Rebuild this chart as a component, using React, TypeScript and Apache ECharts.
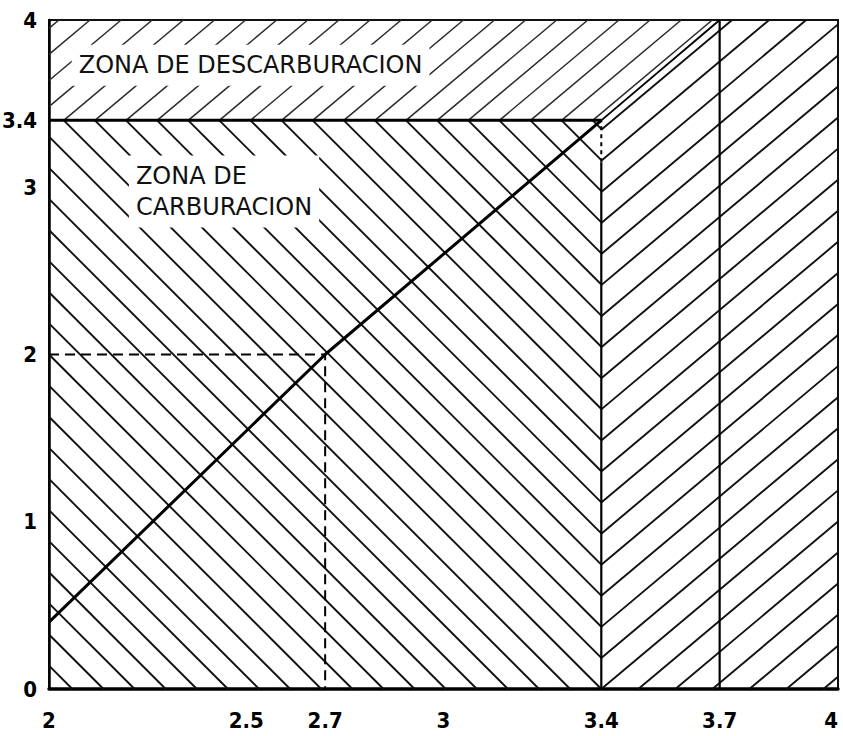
import React, { useEffect, useRef } from "react";
import * as echarts from "echarts";

// ---- data ----
const xTickValues = [2, 2.5, 2.7, 3, 3.4, 3.7, 4];
const yTickValues = [0, 1, 2, 3, 3.4, 4];

// zones (value coordinates)
const carburacionZone = [[2, 0], [3.4, 0], [3.4, 3.4], [2, 3.4]];
const descarburacionZone = [[2, 3.4], [3.4, 3.4], [3.7, 4], [2, 4]];
const rightZone = [[3.4, 0], [4, 0], [4, 4], [3.7, 4], [3.4, 3.4]];

// lines
const diagonalLine = [[2, 0.4], [2.7, 2], [3.4, 3.4]];
const diagonalExtension = [[3.4, 3.4], [3.7, 4]];
const readingLine = [[2, 2], [2.7, 2], [2.7, 0]];
const boundaryLine = [[2, 3.4], [3.4, 3.4]];
const verticalAt34 = [[3.4, 0], [3.4, 3.15]];
const verticalAt34Dashed = [[3.4, 3.15], [3.4, 3.4]];
const verticalAt37 = [[3.7, 0], [3.7, 4]];

// zone labels
const zoneNames = ["ZONA DE DESCARBURACION", "ZONA DE\nCARBURACION"];
const zoneNameAnchors = [[2.055, 3.73], [2.2, 2.975]];

// ---- styles ----
const hatchStyles: Record<string, { angle: number; dir: number; spacing: number; width: number; color: string }> = {
  back: { angle: 45, dir: 1, spacing: 22, width: 1.9, color: "#111" },
  slashRight: { angle: 40, dir: -1, spacing: 23.8, width: 1.9, color: "#111" },
  slashTop: { angle: 40, dir: -1, spacing: 20, width: 1.5, color: "#2a2a2a" },
};
const hatchRegions = [
  { poly: carburacionZone, hatch: "back" },
  { poly: rightZone, hatch: "slashRight" },
  { poly: descarburacionZone, hatch: "slashTop" },
];

const labelFont = "'DejaVu Sans Condensed', 'Liberation Sans Narrow', 'DejaVu Sans', sans-serif";
const zoneFont = "'DejaVu Sans', 'Liberation Sans', sans-serif";

function clipSegment(p0: number[], p1: number[], poly: number[][]) {
  let area = 0;
  for (let i = 0; i < poly.length; i++) {
    const a = poly[i], b = poly[(i + 1) % poly.length];
    area += a[0] * b[1] - b[0] * a[1];
  }
  const s = area >= 0 ? 1 : -1;
  const D = [p1[0] - p0[0], p1[1] - p0[1]];
  let tmin = 0, tmax = 1;
  for (let i = 0; i < poly.length; i++) {
    const a = poly[i], b = poly[(i + 1) % poly.length];
    const e = [b[0] - a[0], b[1] - a[1]];
    const A = s * (e[0] * (p0[1] - a[1]) - e[1] * (p0[0] - a[0]));
    const B = s * (e[0] * D[1] - e[1] * D[0]);
    if (Math.abs(B) < 1e-9) {
      if (A < 0) return null;
    } else {
      const t = -A / B;
      if (B > 0) tmin = Math.max(tmin, t);
      else tmax = Math.min(tmax, t);
    }
    if (tmin > tmax) return null;
  }
  return [
    [p0[0] + D[0] * tmin, p0[1] + D[1] * tmin],
    [p0[0] + D[0] * tmax, p0[1] + D[1] * tmax],
  ];
}

function renderHatch(params: any, api: any) {
  const region = hatchRegions[params.dataIndex];
  const st = hatchStyles[region.hatch];
  const pts = region.poly.map((p) => api.coord(p));
  const th = (st.angle * Math.PI) / 180;
  const u = [Math.cos(th), st.dir * Math.sin(th)];
  const n = [-u[1], u[0]];
  const corner = api.coord(carburacionZone[1]);
  let anchor = corner;
  if (region.hatch === "slashTop") {
    const yB = api.coord(boundaryLine[0])[1];
    const thB = (hatchStyles.back.angle * Math.PI) / 180;
    anchor = [corner[0] - (corner[1] - yB) / Math.tan(thB), yB];
  }
  const xs = pts.map((p: number[]) => p[0]);
  const ys = pts.map((p: number[]) => p[1]);
  const minX = Math.min(...xs), maxX = Math.max(...xs);
  const minY = Math.min(...ys), maxY = Math.max(...ys);
  const cx = (minX + maxX) / 2, cy = (minY + maxY) / 2;
  const L = Math.hypot(maxX - minX, maxY - minY);
  const dot = (p: number[]) => p[0] * n[0] + p[1] * n[1];
  const cs = [[minX, minY], [maxX, minY], [minX, maxY], [maxX, maxY]].map(dot);
  const c0 = dot(anchor);
  const cmin = Math.min(...cs), cmax = Math.max(...cs);
  const k0 = Math.floor((cmin - c0) / st.spacing) - 1;
  const k1 = Math.ceil((cmax - c0) / st.spacing) + 1;
  const cc = dot([cx, cy]);
  const children: any[] = [];
  for (let k = k0; k <= k1; k++) {
    const c = c0 + k * st.spacing;
    const pc = [cx + n[0] * (c - cc), cy + n[1] * (c - cc)];
    const a = [pc[0] - u[0] * L, pc[1] - u[1] * L];
    const b = [pc[0] + u[0] * L, pc[1] + u[1] * L];
    const seg = clipSegment(a, b, pts);
    if (!seg) continue;
    children.push({
      type: "line",
      shape: { x1: seg[0][0], y1: seg[0][1], x2: seg[1][0], y2: seg[1][1] },
      style: { stroke: st.color, lineWidth: st.width },
      silent: true,
    });
  }
  return { type: "group", children };
}

function lineSeries(data: number[][], width: number, dashed?: number[]) {
  return {
    type: "line",
    data,
    symbol: "none",
    silent: true,
    z: 4,
    lineStyle: { color: "#000", width, type: dashed || "solid", cap: "butt" },
  };
}

export default function App() {
  const ref = useRef<HTMLDivElement>(null);
  useEffect(() => {
    if (!ref.current) return;
    const chart = echarts.init(ref.current, null, { renderer: "svg" });
    chart.setOption({
      animation: false,
      backgroundColor: "#fff",
      grid: {
        left: 49,
        right: 5,
        top: 20,
        bottom: 47,
        show: true,
        borderColor: "#111",
        borderWidth: 2,
        outerBoundsMode: "none",
      } as any,
      xAxis: {
        type: "value",
        min: 2,
        max: 4,
        axisLine: { show: true, onZero: false, lineStyle: { color: "#000", width: 3.5 } },
        axisTick: { show: false },
        splitLine: { show: false },
        axisLabel: {
          customValues: xTickValues,
          margin: 20,
          color: "#000",
          fontFamily: labelFont,
          fontWeight: "bold",
          fontSize: 22,
          alignMaxLabel: "right",
          formatter: (v: number) => String(v),
        },
      },
      yAxis: {
        type: "value",
        min: 0,
        max: 4,
        axisLine: { show: true, onZero: false, lineStyle: { color: "#000", width: 2.5 } },
        axisTick: { show: false },
        splitLine: { show: false },
        axisLabel: {
          customValues: yTickValues,
          margin: 12,
          color: "#000",
          fontFamily: labelFont,
          fontWeight: "bold",
          fontSize: 22,
          formatter: (v: number) => String(v),
        },
      },
      series: [
        {
          type: "custom",
          renderItem: renderHatch,
          data: hatchRegions.map((r, i) => [r.poly[0][0], r.poly[0][1], i]),
          encode: { x: 0, y: 1 },
          silent: true,
          z: 1,
        },
        lineSeries(diagonalLine, 3),
        lineSeries(diagonalExtension, 1.9),
        lineSeries(boundaryLine, 3),
        lineSeries(verticalAt34, 2.2),
        lineSeries(verticalAt34Dashed, 2, [4, 4]),
        lineSeries(verticalAt37, 2.2),
        lineSeries(readingLine, 2, [10, 6]),
        {
          type: "scatter",
          silent: true,
          z: 10,
          symbolSize: 2,
          itemStyle: { color: "rgba(0,0,0,0)" },
          data: zoneNameAnchors.map((p, i) => ({ value: p, name: zoneNames[i] })),
          label: {
            show: true,
            position: "right",
            distance: 0,
            formatter: (p: any) => p.name,
            color: "#111",
            opacity: 1,
            fontFamily: zoneFont,
            fontSize: 24,
            lineHeight: 31,
            align: "left",
            backgroundColor: "#fff",
            padding: [5, 7],
          },
        },
      ],
    } as any);
    return () => chart.dispose();
  }, []);
  return (
    <div
      ref={ref}
      style={{ position: "absolute", left: 0, top: 0, width: 843, height: 736, background: "#fff" }}
    />
  );
}
